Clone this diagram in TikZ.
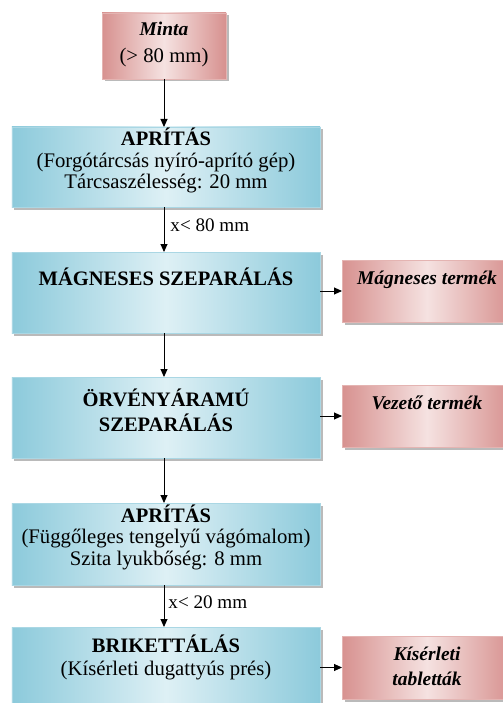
\documentclass[tikz,border=0pt]{standalone}
\usepackage{fontspec}
\setmainfont{Liberation Serif}
\usetikzlibrary{arrows.meta,shadows}
\definecolor{bdark}{RGB}{140,202,219}
\definecolor{blight}{RGB}{222,240,245}
\definecolor{bline}{RGB}{170,215,228}
\definecolor{pdark}{RGB}{215,145,143}
\definecolor{plight}{RGB}{245,226,225}
\definecolor{pline}{RGB}{228,180,178}
\begin{document}
\begin{tikzpicture}[x=1bp,y=-1bp,
  box/.style={rectangle, inner sep=0pt, outer sep=0pt, line width=0.8bp,
    drop shadow={shadow xshift=2.5bp, shadow yshift=-2.5bp, opacity=0.45, fill=black!60},
    shading angle=45},
  bluebox/.style={box, draw=bline, left color=bdark, right color=bdark, middle color=blight,
    minimum width=308bp},
  pinkbox/.style={box, draw=pline, left color=pdark, right color=pdark, middle color=plight},
  txt/.style={anchor=base, inner sep=0pt, font=\fontsize{20.8}{23}\selectfont},
  ttl/.style={txt, font=\fontsize{20.6}{23}\selectfont\bfseries},
  itl/.style={txt, font=\fontsize{19.5}{21.5}\selectfont\bfseries\itshape},
  lbl/.style={anchor=base west, inner sep=0pt, font=\fontsize{19.2}{21}\selectfont},
  arr/.style={draw=black, line width=0.9bp, -{Triangle[length=8bp,width=7bp]}}
]
\useasboundingbox (0,0) rectangle (503,703);
\clip (0,0) rectangle (503,703);
\fill[white] (0,0) rectangle (503,703);

% boxes
\node[pinkbox, minimum width=124bp, minimum height=66bp] (minta) at (164,46) {};
\node[bluebox, minimum height=80bp] (b1) at (166,167) {};
\node[bluebox, minimum height=81bp] (b2) at (166,292.5) {};
\node[pinkbox, minimum width=170bp, minimum height=62bp] (p2) at (427,291) {};
\node[bluebox, minimum height=81bp] (b3) at (166,417.5) {};
\node[pinkbox, minimum width=170bp, minimum height=62bp] (p3) at (427,416) {};
\node[bluebox, minimum height=82bp] (b4) at (166,544) {};
\node[bluebox, minimum height=82bp] (b5) at (166,668) {};
\node[pinkbox, minimum width=170bp, minimum height=63bp] (p5) at (427,667.5) {};

% texts
\node[itl] (m1) at (164,36) {Minta};
\node[txt] (m2) at (164,63) {(> 80 mm)};

\node[ttl] (a1) at (166,145) {APRÍTÁS};
\node[txt] (a2) at (166,167) {(Forgótárcsás nyíró-aprító gép)};
\node[txt] (a3) at (166,188) {Tárcsaszélesség: 20 mm};

\node[ttl] (s1) at (166,285) {MÁGNESES SZEPARÁLÁS};
\node[itl] (ps1) at (427,284) {Mágneses termék};

\node[ttl] (o1) at (166,406) {ÖRVÉNYÁRAMÚ};
\node[ttl] (o2) at (166,431) {SZEPARÁLÁS};
\node[itl] (po1) at (427,409) {Vezető termék};

\node[ttl] (c1) at (166,522) {APRÍTÁS};
\node[txt] (c2) at (166,543) {(Függőleges tengelyű vágómalom)};
\node[txt] (c3) at (166,565) {Szita lyukbőség: 8 mm};

\node[ttl] (k1) at (166,652) {BRIKETTÁLÁS};
\node[txt] (k2) at (166,675) {(Kísérleti dugattyús prés)};
\node[itl] (pk1) at (427,660) {Kísérleti};
\node[itl] (pk2) at (427,685) {tabletták};

% connectors
\draw[arr] (minta.south) -- (minta.south |- b1.north);
\draw[arr] (b1.south -| minta.south) -- (b2.north -| minta.south)
  node[lbl, pos=0.55, xshift=6bp] (l1) {x< 80 mm};
\draw[arr] (b2.south -| minta.south) -- (b3.north -| minta.south);
\draw[arr] (b3.south -| minta.south) -- (b4.north -| minta.south);
\draw[arr] (b4.south -| minta.south) -- (b5.north -| minta.south)
  node[lbl, pos=0.55, xshift=4bp] (l2) {x< 20 mm};

\draw[arr] (p2.west -| b2.east) -- (p2.west);
\draw[arr] (p3.west -| b3.east) -- (p3.west);
\draw[arr] (p5.west -| b5.east) -- (p5.west);
\end{tikzpicture}
\end{document}
